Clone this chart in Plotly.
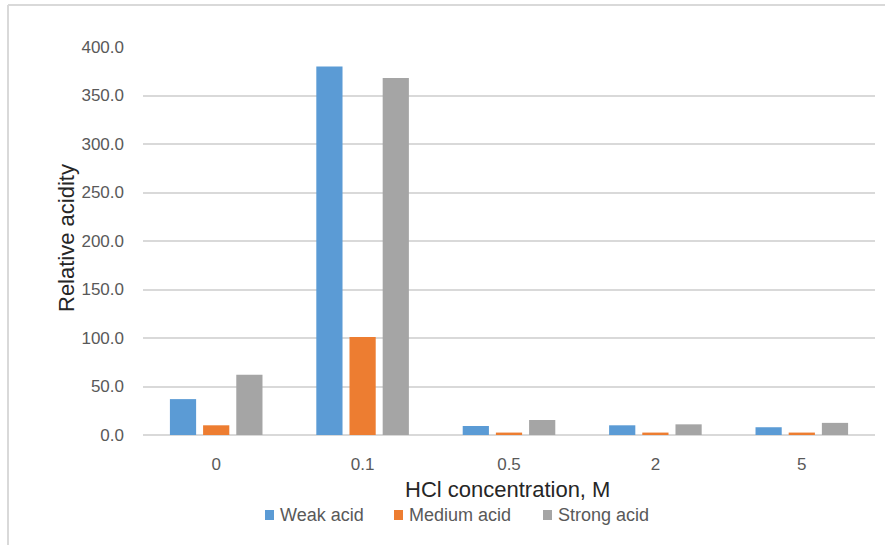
import plotly.graph_objects as go

concentrations = ["0", "0.1", "0.5", "2", "5"]
weak_acid = [37.0, 380.0, 9.3, 10.0, 8.0]
medium_acid = [10.0, 101.0, 2.5, 2.5, 2.5]
strong_acid = [62.0, 368.0, 15.5, 11.0, 12.5]
y_ticks = [0, 50, 100, 150, 200, 250, 300, 350, 400]

series_names = ["Weak acid", "Medium acid", "Strong acid"]
series_colors = ["#5B9BD5", "#ED7D31", "#A5A5A5"]

W, H = 885, 545
L, R, T, B = 143, 10, 47, 110
pw, ph = W - L - R, H - T - B

def px_x(p):
    return (p - L) / pw

def px_y(p):
    return (H - B - p) / ph

font = "Liberation Sans"

fig = go.Figure()
for name, vals, col in zip(series_names, [weak_acid, medium_acid, strong_acid], series_colors):
    fig.add_trace(go.Bar(x=concentrations, y=vals, name=name,
                         marker=dict(color=col, line=dict(width=0))))

fig.update_layout(
    width=W, height=H,
    margin=dict(l=L, r=R, t=T, b=B),
    paper_bgcolor="white", plot_bgcolor="white",
    barmode="group", bargap=0.32, bargroupgap=0.21,
    font=dict(family=font, color="#595959", size=17),
    showlegend=False,
    xaxis=dict(type="category", range=[-0.5, 4.5], showgrid=False,
               showline=False, ticks="", tickfont=dict(size=17, color="#595959"),
               ticklabelstandoff=17),
    yaxis=dict(range=[0, 400], tickvals=y_ticks, tickformat=".1f",
               showgrid=True, gridcolor="#D9D9D9", gridwidth=1.5,
               zeroline=True, zerolinecolor="#D9D9D9", zerolinewidth=1.5,
               showline=False, ticks="", tickfont=dict(size=17, color="#595959"),
               ticklabelstandoff=18),
)

fig.add_annotation(text="HCl concentration, M", xref="paper", yref="paper",
                   x=px_x(507), y=px_y(489), xanchor="center", yanchor="middle",
                   showarrow=False, font=dict(size=22, color="#262626", family=font))
fig.add_annotation(text="Relative acidity", xref="paper", yref="paper",
                   x=px_x(66), y=px_y(238), xanchor="center", yanchor="middle",
                   textangle=-90, showarrow=False,
                   font=dict(size=22, color="#262626", family=font))

# legend row: colour swatch plus label for each series
legend_left = [265, 394, 543]
for name, col, x0 in zip(series_names, series_colors, legend_left):
    fig.add_shape(type="rect", xref="paper", yref="paper",
                  x0=px_x(x0), x1=px_x(x0 + 9), y0=px_y(520), y1=px_y(510),
                  fillcolor=col, line=dict(width=0))
    fig.add_annotation(text=name, xref="paper", yref="paper",
                       x=px_x(x0 + 13), y=px_y(515), xanchor="left", yanchor="middle",
                       showarrow=False, font=dict(size=18, color="#595959", family=font))

# outer frame (top and left edges)
fig.add_shape(type="line", xref="paper", yref="paper",
              x0=px_x(8), x1=px_x(885), y0=px_y(5), y1=px_y(5),
              line=dict(color="#D9D9D9", width=2))
fig.add_shape(type="line", xref="paper", yref="paper",
              x0=px_x(8), x1=px_x(8), y0=px_y(5), y1=px_y(545),
              line=dict(color="#D9D9D9", width=2))

fig.write_html("out.html")
